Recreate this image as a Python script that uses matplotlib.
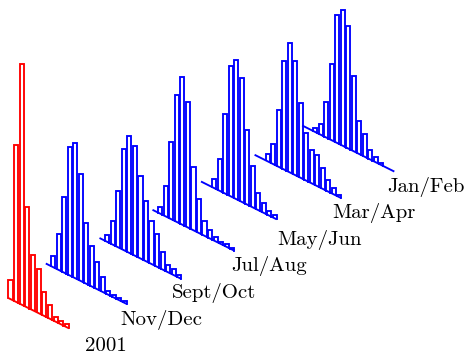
import matplotlib
matplotlib.use("Agg")
import matplotlib.pyplot as plt

# ---- DATA (bar heights, leading zeros = empty bins) ----
labels = ["2001", "Nov/Dec", "Sept/Oct", "Jul/Aug", "May/Jun", "Mar/Apr", "Jan/Feb"]
h_2001 = [18, 156, 240, 99, 54, 43, 23, 13, 4, 2.5, 2]
h_novdec = [0, 10, 35, 75, 128, 134, 106, 60, 40, 26, 14, 3, 1.5, 1.5, 1]
h_septoct = [0, 6, 23, 55, 100, 116, 109, 81, 59, 42, 32, 17, 6, 5.5, 1.5]
h_julaug = [0, 6, 29, 76, 126, 147, 124, 62, 33, 14, 7.5, 3, 1.5, 1.5, 1]
h_mayjun = [0, 0, 8, 31, 79, 129, 138, 123, 74, 40, 16.5, 8.5, 4, 2]
h_marapr = [0, 0, 6, 19.5, 55.5, 108, 128.5, 113.5, 74, 47, 32, 30, 19.5, 10.5, 5, 1.5]
h_janfeb = [0, 0, 3, 10, 34.5, 75, 127, 135, 122, 74, 32, 22, 8.5, 4.3, 1.5, 0, 0]

series = [h_2001, h_novdec, h_septoct, h_julaug, h_mayjun, h_marapr, h_janfeb]
colors = ["#ff0000"] + ["#0000ff"] * 6

# ---- LAYOUT (pixel space, y down) ----
origins = [(8.3, 298), (45.8, 263.5), (99.5, 238), (152.5, 209.8),
           (201, 181.5), (254.6, 154.8), (302.2, 125.5)]
pitches = [5.65, 5.5, 5.55, 5.55, 5.5, 5.5, 5.5]
label_pos = [(106, 346.5), (161, 320), (214, 293), (269, 266),
             (320, 240), (374, 213), (426, 187)]
slope = 0.5
frac = 0.75

fig = plt.figure(figsize=(4.71, 3.56), dpi=100)
ax = fig.add_axes([0, 0, 1, 1])
ax.set_xlim(0, 471)
ax.set_ylim(356, 0)
ax.axis("off")

for hs, (x0, y0), p, c in zip(series, origins, pitches, colors):
    base = lambda x: y0 + slope * (x - x0)
    w = frac * p
    x_end = x0 + (len(hs) - 1) * p + w
    ax.plot([x0, x_end], [base(x0), base(x_end)], color=c, lw=1.35,
            solid_capstyle="butt")
    for i, h in enumerate(hs):
        if h <= 0:
            continue
        xl = x0 + i * p
        xr = xl + w
        top = base(xl) - h
        ax.plot([xl, xl, xr, xr], [base(xl), top, top, base(xr)],
                color=c, lw=1.35, solid_joinstyle="miter")

for lab, (lx, ly) in zip(labels, label_pos):
    ax.text(lx, ly, lab, ha="center", va="center", fontsize=15,
            family="cmr10")

fig.savefig("out.png", dpi=100)
